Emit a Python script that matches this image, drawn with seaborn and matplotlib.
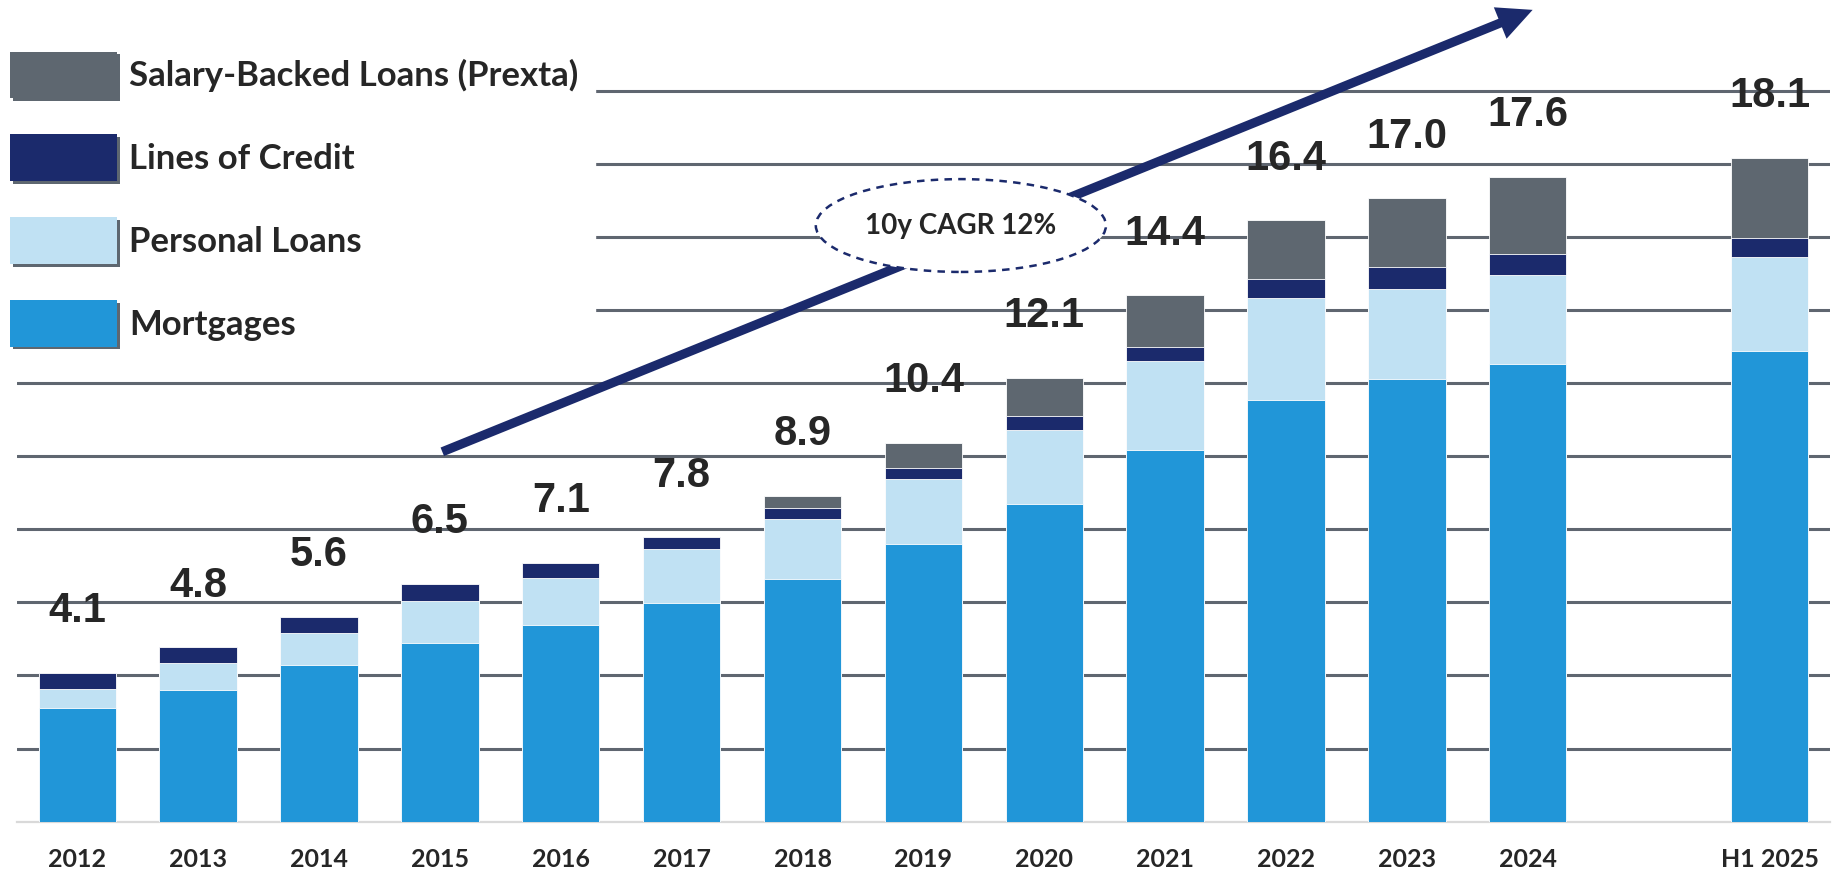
import matplotlib
matplotlib.use("Agg")
import matplotlib.pyplot as plt
import seaborn as sns
import pandas as pd
from matplotlib.patches import Patch, Ellipse
from matplotlib import patheffects as pe

# ---- data (USD bn) ----
years = ["2012", "2013", "2014", "2015", "2016", "2017", "2018",
         "2019", "2020", "2021", "2022", "2023", "2024", "H1 2025"]
mortgages = [3.10, 3.61, 4.28, 4.90, 5.38, 5.98, 6.64,
             7.59, 8.68, 10.17, 11.53, 12.12, 12.52, 12.87]
personal = [0.52, 0.72, 0.89, 1.15, 1.30, 1.49, 1.65,
            1.78, 2.03, 2.43, 2.81, 2.46, 2.45, 2.57]
credit = [0.44, 0.44, 0.44, 0.45, 0.40, 0.31, 0.29,
          0.32, 0.39, 0.38, 0.50, 0.60, 0.56, 0.54]
salary = [0.0, 0.0, 0.0, 0.0, 0.0, 0.0, 0.33,
          0.67, 1.04, 1.42, 1.61, 1.87, 2.12, 2.19]
totals = ["4.1", "4.8", "5.6", "6.5", "7.1", "7.8", "8.9",
          "10.4", "12.1", "14.4", "16.4", "17.0", "17.6", "18.1"]
order = years[:-1] + [" "] + years[-1:]

series = ["Salary-Backed Loans (Prexta)", "Lines of Credit", "Personal Loans", "Mortgages"]
colores = {"Salary-Backed Loans (Prexta)": "#5e6770",
           "Lines of Credit": "#1b2a6c",
           "Personal Loans": "#c0e1f3",
           "Mortgages": "#2196d8"}

df = pd.DataFrame({"year": years, "Mortgages": mortgages, "Personal Loans": personal,
                   "Lines of Credit": credit, "Salary-Backed Loans (Prexta)": salary})
# cumulative heights, drawn back to front
df["c_mort"] = df["Mortgages"]
df["c_pers"] = df["c_mort"] + df["Personal Loans"]
df["c_cred"] = df["c_pers"] + df["Lines of Credit"]
df["c_sal"] = df["c_cred"] + df["Salary-Backed Loans (Prexta)"]

sns.set_style("white")
plt.rcParams["font.family"] = ["Lato", "DejaVu Sans"]

fig = plt.figure(figsize=(18.43, 8.71), dpi=100)
ax = fig.add_axes([16.8 / 1843, 49.3 / 871, (1830 - 16.8) / 1843, 821.7 / 871])

for col, name in [("c_sal", "Salary-Backed Loans (Prexta)"), ("c_cred", "Lines of Credit"),
                  ("c_pers", "Personal Loans"), ("c_mort", "Mortgages")]:
    sns.barplot(data=df, x="year", y=col, order=order, color=colores[name],
                saturation=1, width=0.64, edgecolor="white", linewidth=0.6,
                ax=ax, zorder=3)

ax.set_xlim(-0.5, 14.5)
ax.set_ylim(0, 22.48)
ax.set_yticks(range(2, 21, 2))
ax.yaxis.grid(True, color="#5f6670", linewidth=2.2, zorder=0)
ax.set_axisbelow(True)
ax.tick_params(axis="y", left=False, labelleft=False)
ax.set_xlabel("")
ax.set_ylabel("")
for s in ["top", "right", "left"]:
    ax.spines[s].set_visible(False)
ax.spines["bottom"].set_color("#d9d9d9")
ax.spines["bottom"].set_linewidth(1.6)

ax.set_xticks(range(len(order)))
ax.set_xticklabels(order, fontsize=18, fontweight="bold", family=["Lato", "DejaVu Sans"])
ax.set_xticks([i - 0.5 for i in range(len(order) + 1)], minor=True)
ax.tick_params(axis="x", which="major", length=0, pad=19)
ax.tick_params(axis="x", which="minor", length=7, width=1.4, color="#d9d9d9")

# total labels above each stack
for i, y in enumerate(years):
    pos = order.index(y)
    ax.annotate(totals[i], xy=(pos, df["c_sal"][i]), xytext=(0, 44.5),
                textcoords="offset points", ha="center", va="center",
                fontsize=30, fontweight="bold",
                family=["Liberation Sans Narrow", "Liberation Sans", "DejaVu Sans"],
                zorder=5)

# growth arrow and CAGR bubble
ax.annotate("", xy=(12.04, 22.21), xytext=(3.02, 10.12), annotation_clip=False,
            arrowprops=dict(arrowstyle="simple,head_length=1.26,head_width=1.22,tail_width=0.33",
                            mutation_scale=20, facecolor="#1b2a6c", edgecolor="none",
                            shrinkA=0, shrinkB=0),
            zorder=4)
ell = Ellipse((7.31, 16.31), width=2.40, height=2.54, facecolor="white",
              edgecolor="#1b2a6c", linewidth=1.8, linestyle=(0, (3, 2.5)), zorder=6)
ax.add_patch(ell)
ax.text(7.31, 16.31, "10y CAGR 12%", ha="center", va="center", fontsize=20,
        fontweight="bold", family=["Lato", "DejaVu Sans"], zorder=7)

# legend with shadowed swatches
shadow = [pe.withSimplePatchShadow(offset=(2, -2), shadow_rgbFace="#5e6770", alpha=1.0)]
handles = [Patch(facecolor=colores[n], edgecolor="none", label=n, path_effects=shadow)
           for n in series]
leg = ax.legend(handles=handles, loc="upper left",
                bbox_to_anchor=(-6.7 / 1843, 1 - 35 / 871), bbox_transform=fig.transFigure,
                prop={"family": ["Lato", "DejaVu Sans"], "weight": "bold", "size": 25},
                handlelength=3.08, handleheight=1.69, handletextpad=0.35,
                labelspacing=1.04, borderpad=0.48, borderaxespad=0,
                frameon=True, fancybox=False, framealpha=1, edgecolor="white")
leg.set_zorder(8)

fig.savefig("out.png", dpi=100)
